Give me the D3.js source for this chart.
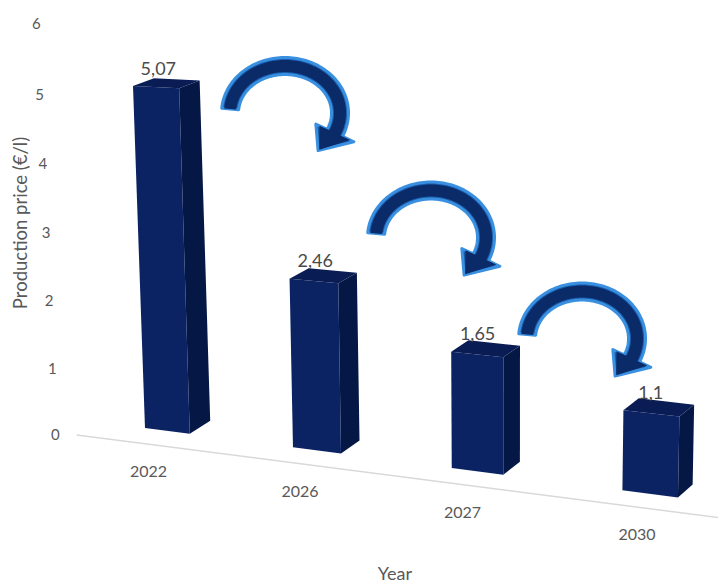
<!DOCTYPE html>
<html><head><meta charset="utf-8">
<script src="https://cdn.jsdelivr.net/npm/d3@7"></script>
<style>body{margin:0;background:#fff}svg{display:block}</style>
</head><body>
<svg id="c" width="718" height="583"></svg>
<script>
// ---- data ----
const categories = ["2022", "2026", "2027", "2030"];
const values = [5.07, 2.46, 1.65, 1.1];
const valueLabels = ["5,07", "2,46", "1,65", "1,1"];
const yTicks = [0, 1, 2, 3, 4, 5, 6];
const xTitle = "Year";
const yTitle = "Production price (€/l)";

// ---- layout / projection constants ----
const W = 718, H = 583;
const FONT = "Lato, 'Open Sans', sans-serif";
const xScale = d3.scalePoint().domain(categories).range([0, 414.3]);
const yScale = d3.scaleLinear().domain([0, 6]).range([0, 408]);
const barW = 42.8;
const G = -2.4475e-4, HH = -9.56e-5, B = -0.0475, D = 0.0302, OX = 145, OY = 428;
const DX0 = 21, DX1 = -0.01376, DY0 = -13, DY1 = 0.0147;
const floorZ = -1.0, floorX0 = -45.6, floorX1 = 530;

function proj(X, Y, Z) {
  Z = Z || 0;
  const w = 1 + G * X + HH * Y;
  const dx = DX0 + DX1 * X, dy = DY0 + DY1 * Y;
  return [(X + B * Y + OX) / w + Z * dx, (D * X - Y + OY) / w + Z * dy];
}

const svg = d3.select("#c");
svg.append("rect").attr("width", W).attr("height", H).attr("fill", "#fff");

// floor line
const f0 = proj(floorX0, 0, floorZ), f1 = proj(floorX1, 0, floorZ);
svg.append("line").attr("x1", f0[0]).attr("y1", f0[1]).attr("x2", f1[0]).attr("y2", f1[1])
  .attr("stroke", "#d9d9d9").attr("stroke-width", 1.5);

// y tick labels
svg.append("g").selectAll("text").data(yTicks).join("text")
  .attr("x", d => proj(floorX0, yScale(d), floorZ)[0] - 17 - d * 0.5)
  .attr("y", d => proj(floorX0, yScale(d), floorZ)[1] + 5 - d * 0.4)
  .attr("text-anchor", "end")
  .attr("font-family", FONT).attr("font-size", 15).attr("fill", "#595959")
  .text(d => d);

// category labels
svg.append("g").selectAll("text").data(categories).join("text")
  .attr("x", d => proj(xScale(d) + barW / 2, 0, floorZ)[0] + 2)
  .attr("y", d => proj(xScale(d) + barW / 2, 0, floorZ)[1] + 28 + 5.5)
  .attr("text-anchor", "middle")
  .attr("font-family", FONT).attr("font-size", 16).attr("fill", "#595959")
  .text(d => d);

// bars
const poly = pts => "M" + pts.map(p => p[0].toFixed(2) + "," + p[1].toFixed(2)).join("L") + "Z";
const bars = svg.append("g").selectAll("g").data(categories.map((c, i) => ({c, v: values[i], lab: valueLabels[i]})))
  .join("g");
bars.each(function(d) {
  const g = d3.select(this);
  const X0 = xScale(d.c), X1 = X0 + barW, Y1 = yScale(d.v);
  g.append("path").attr("d", poly([proj(X1, 0, 0), proj(X1, 0, 1), proj(X1, Y1, 1), proj(X1, Y1, 0)]))
    .attr("fill", "#051744");
  g.append("path").attr("d", poly([proj(X0, 0, 0), proj(X1, 0, 0), proj(X1, Y1, 0), proj(X0, Y1, 0)]))
    .attr("fill", "#0b2263");
  g.append("path").attr("d", poly([proj(X0, Y1, 0), proj(X1, Y1, 0), proj(X1, Y1, 1), proj(X0, Y1, 1)]))
    .attr("fill", "#091c54");
  const t = proj(X0 + barW / 2, Y1, 0.5);
  g.append("text").attr("x", t[0] - 8).attr("y", t[1] - 15 + 6.5)
    .attr("text-anchor", "middle").attr("font-family", FONT).attr("font-size", 18)
    .attr("fill", "#4a4a4a").text(d.lab);
});

// curved decorative arrows (annotation)
const arrows = [{cx: 285, cy: 113}, {cx: 431, cy: 237.5}, {cx: 582, cy: 338.5}];
const AR = {rx: 55, ry: 47, a0: 175, a1: -25, a2: -53, bw: 17, hw: 42};
function arrowPts(a, shrink) {
  const pt = (deg, off) => {
    const t = deg * Math.PI / 180;
    return [a.cx + (AR.rx + off) * Math.cos(t), a.cy - (AR.ry + off) * Math.sin(t)];
  };
  const outer = [], inner = [];
  const bw = AR.bw / 2 - shrink, hw = AR.hw / 2 - shrink * 1.6;
  for (let d = AR.a0; d >= AR.a1; d -= 2) { outer.push(pt(d, bw)); inner.push(pt(d, -bw)); }
  return outer.concat([pt(AR.a1, hw), pt(AR.a2 + shrink * 0.6, 0), pt(AR.a1, -hw)], inner.reverse());
}
const ag = svg.append("g").selectAll("g").data(arrows).join("g");
ag.append("path").attr("d", a => poly(arrowPts(a, 0)))
  .attr("fill", "#1a5cab").attr("stroke", "#3a90e0").attr("stroke-width", 3)
  .attr("stroke-linejoin", "round");
ag.append("path").attr("d", a => poly(arrowPts(a, 2.5)))
  .attr("fill", "#0a2a68");

// axis titles
svg.append("text").attr("x", 395).attr("y", 580).attr("text-anchor", "middle")
  .attr("font-family", FONT).attr("font-size", 18).attr("fill", "#595959").text(xTitle);
svg.append("text").attr("transform", "translate(27,223) rotate(-90)").attr("text-anchor", "middle")
  .attr("font-family", FONT).attr("font-size", 18.5).attr("fill", "#595959").text(yTitle);
</script>
</body></html>
